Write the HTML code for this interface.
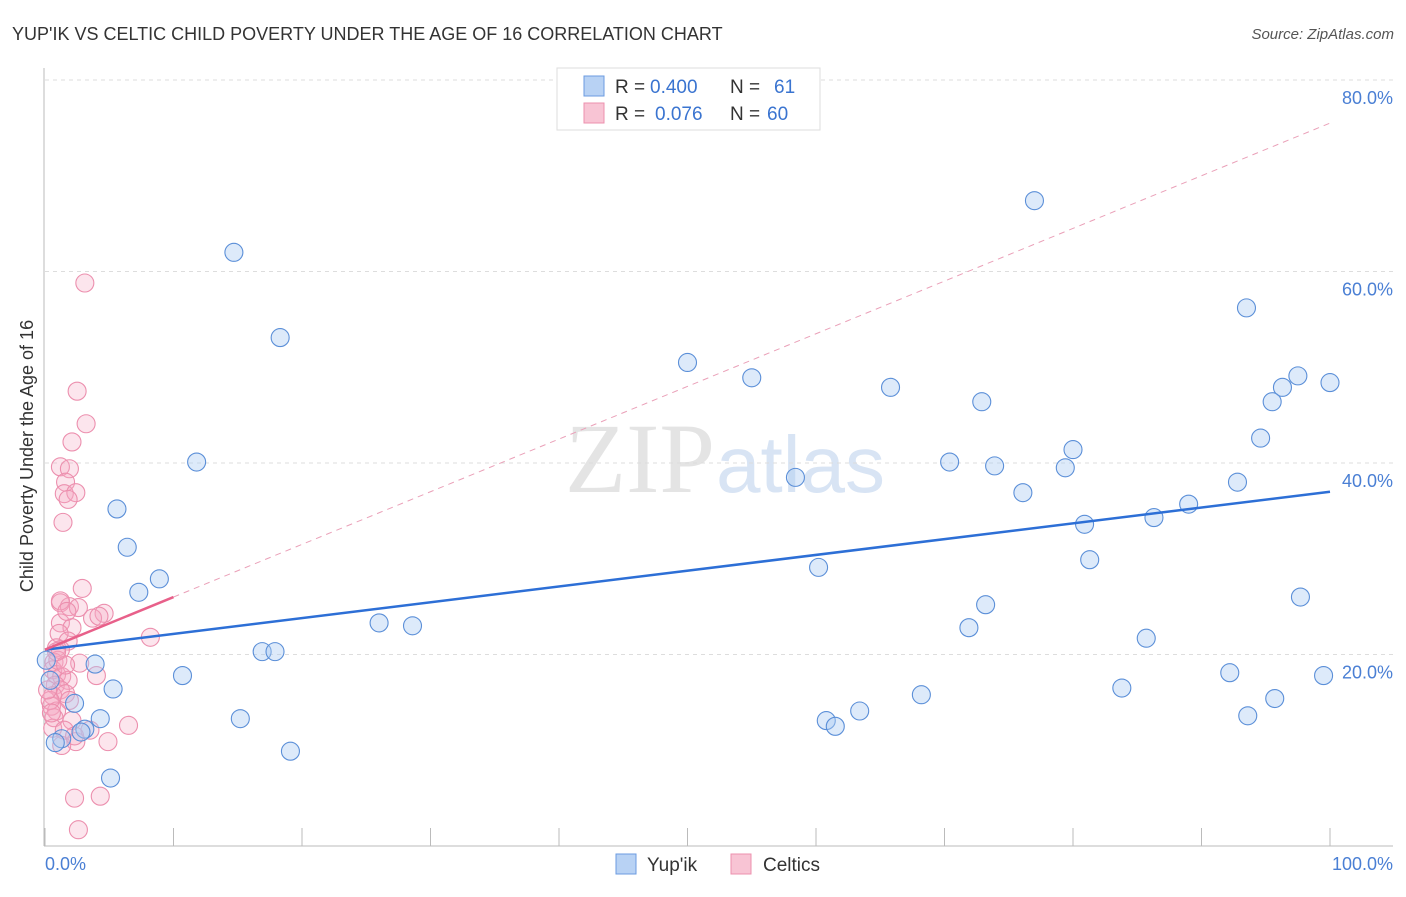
<!DOCTYPE html>
<html><head><meta charset="utf-8"><style>
body{margin:0;background:#fff;font-family:"Liberation Sans",sans-serif}
</style></head><body>
<svg width="1406" height="892" xmlns="http://www.w3.org/2000/svg">
<text x="12" y="40" font-size="18" fill="#333">YUP'IK VS CELTIC CHILD POVERTY UNDER THE AGE OF 16 CORRELATION CHART</text>
<text x="1394" y="39" font-size="15" fill="#555" text-anchor="end" font-style="italic">Source: ZipAtlas.com</text>
<text x="715" y="492" font-size="100" fill="#e4e4e4" text-anchor="end" font-family="Liberation Serif">ZIP</text>
<text x="716" y="492" font-size="80" fill="#d8e4f4">atlas</text>
<g id="grid"></g>
<g id="axes"></g>
<g id="pts"></g>
<g id="trend"></g>
<text transform="translate(33,456) rotate(-90)" font-size="18" fill="#333" text-anchor="middle">Child Poverty Under the Age of 16</text>
<text x="45" y="870" font-size="18" fill="#4a7fd4">0.0%</text>
<text x="1393" y="870" font-size="18" fill="#4a7fd4" text-anchor="end">100.0%</text>
<g>
<rect x="557" y="68" width="263" height="62" fill="#fff" stroke="#ddd"/>
<rect x="584" y="76" width="20" height="20" fill="#b8d2f4" stroke="#6b9be0"/>
<rect x="584" y="103" width="20" height="20" fill="#f8c4d4" stroke="#ec90ae"/>
<text x="615" y="93" font-size="19" fill="#333">R =</text>
<text x="650" y="93" font-size="19" fill="#3a74d0">0.400</text>
<text x="730" y="93" font-size="19" fill="#333">N =</text>
<text x="774" y="93" font-size="19" fill="#3a74d0">61</text>
<text x="615" y="120" font-size="19" fill="#333">R =</text>
<text x="655" y="120" font-size="19" fill="#3a74d0">0.076</text>
<text x="730" y="120" font-size="19" fill="#333">N =</text>
<text x="767" y="120" font-size="19" fill="#3a74d0">60</text>
</g>
<g>
<rect x="616" y="854" width="20" height="20" fill="#b8d2f4" stroke="#6b9be0"/>
<text x="647" y="871" font-size="19" fill="#333">Yup'ik</text>
<rect x="731" y="854" width="20" height="20" fill="#f8c4d4" stroke="#ec90ae"/>
<text x="763" y="871" font-size="19" fill="#333">Celtics</text>
</g>
</svg>
<script>
const yTicks=[20,40,60,80];
const yTickLabels=["20.0%","40.0%","60.0%","80.0%"];
const xTicks=[0,10,20,30,40,50,60,70,80,90,100];
const yupikX=[14.7,18.3,77.0,93.5,50.0,55.0,65.8,72.9,97.5,96.3,100,95.5,94.6,80.0,11.8,70.4,73.9,79.4,58.4,92.8,76.1,89.0,5.6,86.3,80.9,6.4,81.3,60.2,8.9,7.3,97.7,73.2,26.0,28.6,71.9,85.7,16.9,17.9,3.9,10.7,92.2,99.5,5.3,83.8,68.2,95.7,2.3,63.4,15.2,4.3,60.8,61.5,93.6,3.1,2.8,1.3,0.8,19.1,5.1,0.1,0.4];
const yupikY=[62.0,53.1,67.4,56.2,50.5,48.9,47.9,46.4,49.1,47.9,48.4,46.4,42.6,41.4,40.1,40.1,39.7,39.5,38.5,38.0,36.9,35.7,35.2,34.3,33.6,31.2,29.9,29.1,27.9,26.5,26.0,25.2,23.3,23.0,22.8,21.7,20.3,20.3,19.0,17.8,18.1,17.8,16.4,16.5,15.8,15.4,14.9,14.1,13.3,13.3,13.1,12.5,13.6,12.2,11.9,11.2,10.8,9.9,7.1,19.4,17.3];
const celtX=[3.1,2.5,3.2,2.1,1.2,1.9,1.6,1.5,2.4,1.8,1.4,2.9,1.2,1.9,2.6,4.6,3.7,4.2,1.2,2.1,1.1,1.8,8.2,0.9,1.2,0.7,2.7,0.6,0.9,1.3,4.0,1.8,0.8,1.2,0.6,1.6,1.9,0.5,0.9,0.7,2.1,6.5,0.6,1.5,3.5,2.4,4.9,2.3,4.3,2.6,0.4,1.0,0.2,1.6,0.5,1.3,0.9,2.3,1.2,1.7];
const celtY=[58.8,47.5,44.1,42.2,39.6,39.4,38.0,36.8,36.9,36.2,33.8,26.9,25.4,25.0,24.9,24.3,23.8,24.0,23.3,22.8,22.2,21.4,21.8,20.7,20.5,19.2,19.1,18.4,17.9,17.7,17.8,17.3,16.8,16.3,15.7,15.9,15.2,14.6,14.1,13.4,13.1,12.6,12.3,12.1,12.1,10.9,10.9,5.0,5.2,1.7,15.2,19.4,16.3,18.9,13.9,10.5,20.3,11.5,25.6,24.5];
const blueTrend=[20.5,37.0];
const pinkTrend=[20.5,0.55];
const NS="http://www.w3.org/2000/svg";
const X=v=>45+v*12.85, Y=v=>846-v*9.575;
function mk(p,t,a){const e=document.createElementNS(NS,t);for(const k in a)e.setAttribute(k,a[k]);document.getElementById(p).appendChild(e);return e;}
yTicks.forEach((t,i)=>{
 const l=mk('grid','line',{x1:45,x2:1393,y1:Y(t),y2:Y(t),stroke:'#ddd','stroke-dasharray':'4,4'});
 
 
 const tx=mk('grid','text',{x:1393,y:Y(t)+24,'font-size':18,fill:'#4a7fd4','text-anchor':'end'});
 tx.textContent=yTickLabels[i];
 
 
});
const yAxisLine=mk('axes','line',{x1:44,x2:44,y1:68,y2:846,stroke:'#bbb'});


const xAxisLine=mk('axes','line',{x1:44,x2:1393,y1:846,y2:846,stroke:'#bbb'});


xTicks.forEach(t=>{const l=mk('axes','line',{x1:X(t),x2:X(t),y1:828,y2:846,stroke:'#bbb'});
 
 });
celtX.forEach((x,i)=>{const c=mk('pts','circle',{cx:X(x),cy:Y(celtY[i]),r:9,fill:'rgba(246,168,194,0.3)',stroke:'#ec8fae','stroke-width':1.1});
 
 });
yupikX.forEach((x,i)=>{const c=mk('pts','circle',{cx:X(x),cy:Y(yupikY[i]),r:9,fill:'rgba(170,202,242,0.4)',stroke:'#5b8fd8','stroke-width':1.1});
 
 });
const bt=mk('trend','line',{x1:X(0),y1:Y(blueTrend[0]),x2:X(100),y2:Y(blueTrend[1]),stroke:'#2d6fd6','stroke-width':2.5});


const pd=mk('trend','line',{x1:X(10),y1:Y(pinkTrend[0]+pinkTrend[1]*10),x2:X(100),y2:Y(pinkTrend[0]+pinkTrend[1]*100),stroke:'#eaa0b8','stroke-width':1,'stroke-dasharray':'6,5'});


const ps=mk('trend','line',{x1:X(0),y1:Y(pinkTrend[0]),x2:X(10),y2:Y(pinkTrend[0]+pinkTrend[1]*10),stroke:'#e8608a','stroke-width':2.5});


</script>
</body></html>
